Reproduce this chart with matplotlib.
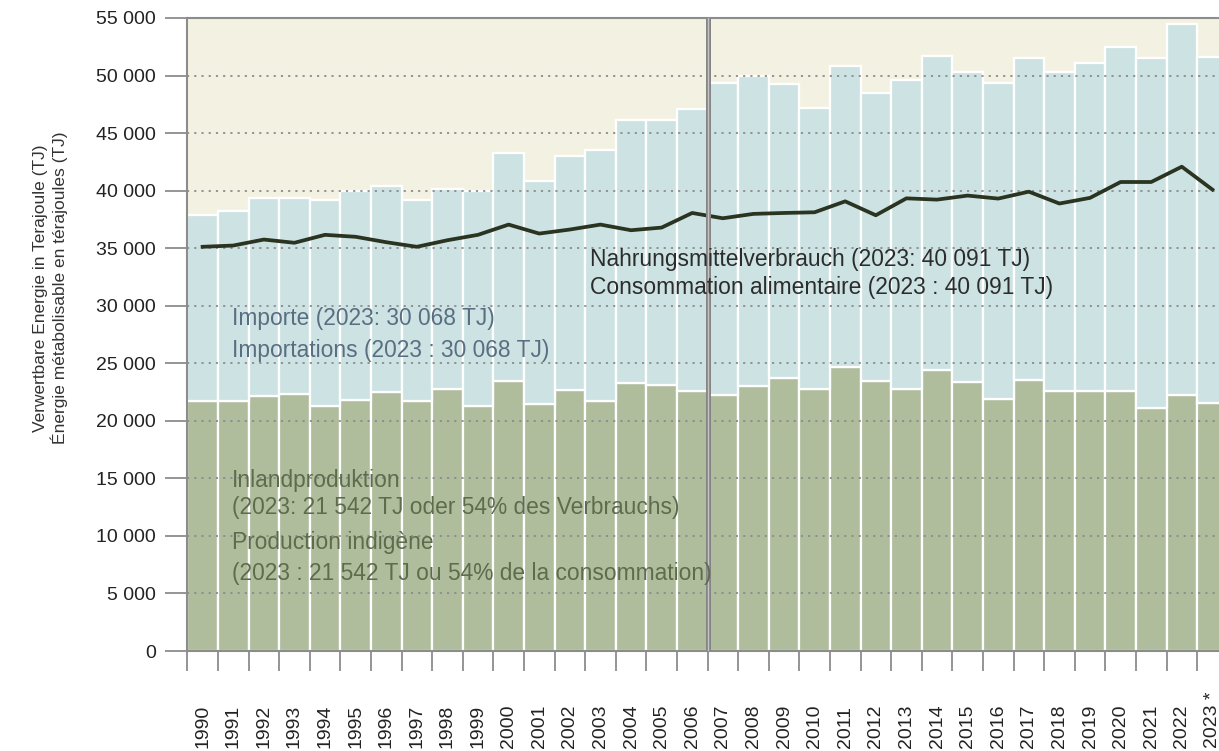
import numpy as np
import matplotlib
matplotlib.use("Agg")
from matplotlib import pyplot as plt
from matplotlib.ticker import FixedLocator

plt.rcParams["font.family"] = ["Liberation Sans", "DejaVu Sans"]

years = list(range(1990, 2024))
year_labels = [str(y) for y in years[:-1]] + ["2023 *"]

# TJ
domestic = [21730, 21730, 22130, 22360, 21300, 21840, 22510, 21700, 22730, 21260,
            23460, 21470, 22680, 21700, 23310, 23140, 22560, 22270, 23030, 23720,
            22790, 24650, 23490, 22790, 24380, 23370, 21870, 23570, 22560, 22560,
            22620, 21120, 22270, 21542]
imports = [16110, 16480, 17240, 17010, 17890, 18100, 17860, 17490, 17410, 18740,
           19850, 19400, 20290, 21850, 22830, 23000, 24510, 27120, 26910, 25530,
           24360, 26160, 24950, 26800, 27320, 26940, 27440, 27990, 27750, 28530,
           29830, 30410, 32250, 30068]
consumption = [35120, 35230, 35750, 35470, 36160, 35990, 35520, 35120, 35690, 36160,
               37050, 36270, 36620, 37050, 36560, 36790, 38060, 37600, 37980, 38060,
               38120, 39070, 37860, 39330, 39220, 39570, 39310, 39910, 38880, 39370,
               40750, 40750, 42080, 40091]

c_green = "#b0bd9d"
c_blue = "#cde3e3"
c_bg = "#f3f2e2"
c_gray = "#8c8c8c"

fig = plt.figure(figsize=(12.19, 7.51), dpi=100)
ax = fig.add_axes([187.3 / 1219, 100 / 751, 1040.4 / 1219, 633 / 751])
ax.set_facecolor(c_bg)

x = np.arange(len(years))
ax.bar(x, domestic, width=1.0, color=c_green, edgecolor="white", linewidth=1.6, zorder=1)
ax.bar(x, imports, bottom=domestic, width=1.0, color=c_blue, edgecolor="white",
       linewidth=1.6, zorder=1)
ax.plot(x, consumption, color="#2b3321", lw=2.7, zorder=4, solid_joinstyle="round")

ax.set_xlim(-0.5, len(years) - 0.5)
ax.set_ylim(0, 55000)

# grid over the bars
ax.set_axisbelow(False)
ax.yaxis.grid(True, color=c_gray, linestyle=(0, (1.2, 2.8)), linewidth=1.3)
ax.xaxis.grid(False)

# break between 2006 and 2007
ax.axvline(16.5, color="#858585", lw=3.6, zorder=5)
ax.axvline(16.5, color="#c4c4c4", lw=1.0, zorder=6)

yt = np.arange(0, 55001, 5000)
ax.set_yticks(yt)
ax.set_yticklabels([f"{v:,}".replace(",", " ") for v in yt])
ax.tick_params(axis="y", direction="out", length=15.5, width=1.3, color=c_gray,
               labelsize=14, labelcolor="#222222", pad=7)

ax.xaxis.set_major_locator(FixedLocator(x))
ax.set_xticklabels(year_labels, rotation=90)
ax.xaxis.set_minor_locator(FixedLocator(np.arange(-0.5, len(years) - 0.5, 1.0)))
ax.tick_params(axis="x", which="major", length=0, labelsize=14, labelcolor="#222222", pad=70)
ax.tick_params(axis="x", which="minor", direction="out", length=14.5, width=1.3, color=c_gray)
for lab in ax.get_xticklabels():
    lab.set_verticalalignment("bottom")

for side in ["left", "top", "bottom"]:
    ax.spines[side].set_color(c_gray)
    ax.spines[side].set_linewidth(1.5)
ax.spines["right"].set_visible(False)

fs = 16.4
ax.text(0.387, 0.618, "Nahrungsmittelverbrauch (2023: 40 091 TJ)", transform=ax.transAxes,
        fontsize=fs, color="#2c2c2c", va="center", zorder=7)
ax.text(0.387, 0.575, "Consommation alimentaire (2023 : 40 091 TJ)", transform=ax.transAxes,
        fontsize=fs, color="#2c2c2c", va="center", zorder=7)
ax.text(0.043, 0.526, "Importe (2023: 30 068 TJ)", transform=ax.transAxes,
        fontsize=fs, color="#5a6e82", va="center", zorder=7)
ax.text(0.043, 0.4755, "Importations (2023 : 30 068 TJ)", transform=ax.transAxes,
        fontsize=fs, color="#5a6e82", va="center", zorder=7)
dom_lines = ["Inlandproduktion",
             "(2023: 21 542 TJ oder 54% des Verbrauchs)",
             "Production indigène",
             "(2023 : 21 542 TJ ou 54% de la consommation)"]
for yy, t in zip([0.270, 0.226, 0.171, 0.123], dom_lines):
    ax.text(0.043, yy, t, transform=ax.transAxes, fontsize=fs, color="#5e6c4e",
            va="center", zorder=7)

fig.text(41 / 1219, 1 - 288 / 751, "Verwertbare Energie in Terajoule (TJ)", rotation=90,
         ha="center", va="center", fontsize=12.5, color="#333333")
fig.text(59 / 1219, 1 - 288 / 751, "Énergie métabolisable en térajoules (TJ)", rotation=90,
         ha="center", va="center", fontsize=12.5, color="#333333")

fig.savefig("out.png", dpi=100)
